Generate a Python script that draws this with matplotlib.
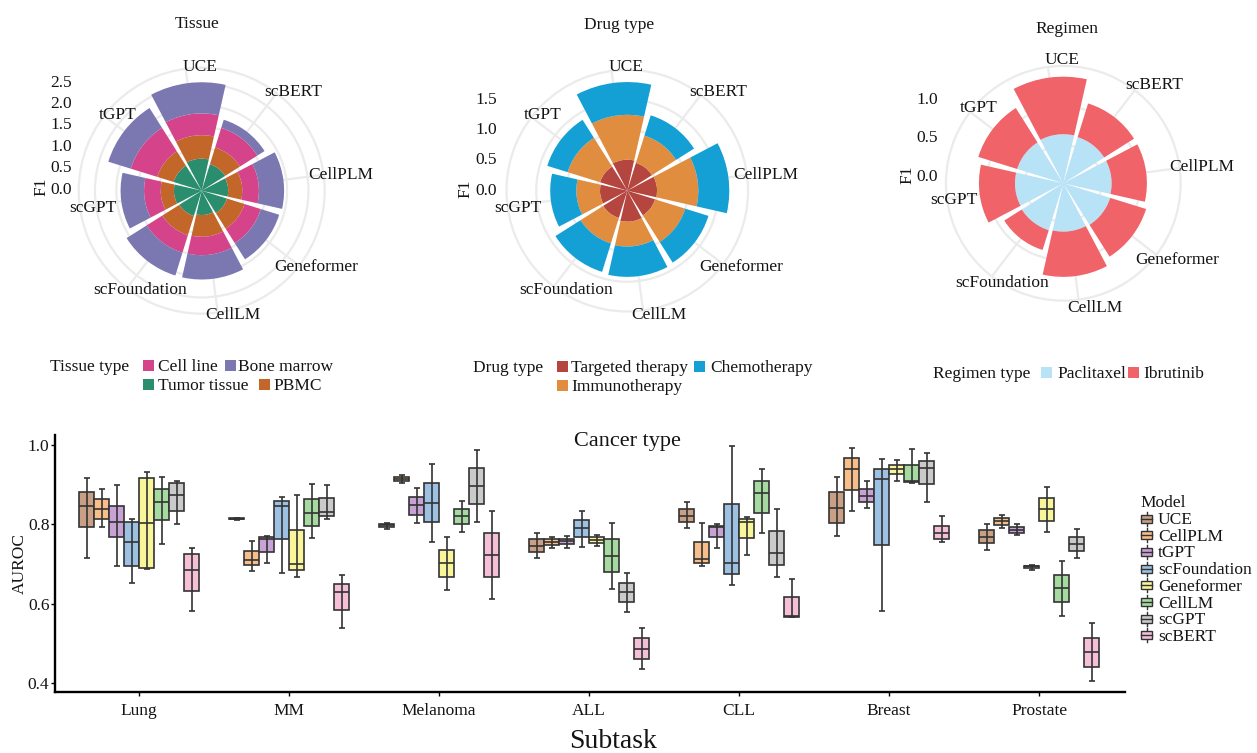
import numpy as np
import matplotlib
matplotlib.use("Agg")
import matplotlib.pyplot as plt
from matplotlib.patches import Rectangle

plt.rcParams["font.family"] = ["Liberation Serif", "DejaVu Serif"]

# ---------------- radial F1 charts ----------------
polar_models = ["UCE", "scBERT", "CellPLM", "Geneformer", "CellLM",
                "scFoundation", "scGPT", "tGPT"]

# Tissue, stacked from the centre outwards
f1_tumor_tissue = [0.75, 0.65, 0.62, 0.62, 0.57, 0.62, 0.65, 0.69]
f1_pbmc = [0.55, 0.41, 0.33, 0.43, 0.51, 0.47, 0.31, 0.40]
f1_cell_line = [0.51, 0.48, 0.39, 0.40, 0.43, 0.43, 0.39, 0.65]
f1_bone_marrow = [0.73, 0.20, 0.59, 0.45, 0.57, 0.56, 0.55, 0.55]

# Drug type
f1_targeted = [0.51, 0.48, 0.49, 0.48, 0.51, 0.47, 0.45, 0.47]
f1_immuno = [0.74, 0.47, 0.68, 0.52, 0.41, 0.44, 0.39, 0.56]
f1_chemo = [0.54, 0.35, 0.51, 0.40, 0.50, 0.49, 0.43, 0.35]

# Regimen
f1_paclitaxel = [0.64, 0.63, 0.63, 0.64, 0.63, 0.64, 0.63, 0.63]
f1_ibrutinib = [0.75, 0.46, 0.46, 0.49, 0.59, 0.27, 0.47, 0.53]

# ---------------- AUROC box plot ----------------
subtasks = ["Lung", "MM", "Melanoma", "ALL", "CLL", "Breast", "Prostate"]
box_models = ["UCE", "CellPLM", "tGPT", "scFoundation", "Geneformer",
              "CellLM", "scGPT", "scBERT"]

auroc_lo = [
    [0.715, 0.794, 0.696, 0.653, 0.688, 0.751, 0.800, 0.581],
    [0.812, 0.683, 0.704, 0.678, 0.668, 0.765, 0.813, 0.540],
    [0.788, 0.904, 0.803, 0.756, 0.635, 0.781, 0.805, 0.613],
    [0.715, 0.741, 0.741, 0.744, 0.746, 0.638, 0.580, 0.435],
    [0.792, 0.694, 0.741, 0.647, 0.724, 0.778, 0.667, 0.566],
    [0.771, 0.834, 0.842, 0.583, 0.910, 0.904, 0.857, 0.755],
    [0.736, 0.791, 0.773, 0.685, 0.780, 0.570, 0.715, 0.406],
]
auroc_q1 = [
    [0.793, 0.813, 0.767, 0.696, 0.691, 0.811, 0.834, 0.632],
    [0.813, 0.697, 0.731, 0.762, 0.684, 0.796, 0.821, 0.584],
    [0.793, 0.909, 0.824, 0.805, 0.668, 0.800, 0.851, 0.668],
    [0.730, 0.748, 0.750, 0.767, 0.752, 0.680, 0.605, 0.461],
    [0.806, 0.702, 0.767, 0.675, 0.765, 0.828, 0.697, 0.568],
    [0.804, 0.887, 0.857, 0.748, 0.926, 0.906, 0.901, 0.763],
    [0.752, 0.798, 0.779, 0.691, 0.809, 0.604, 0.732, 0.442],
]
auroc_med = [
    [0.846, 0.838, 0.807, 0.756, 0.803, 0.856, 0.873, 0.685],
    [0.814, 0.710, 0.763, 0.846, 0.700, 0.828, 0.831, 0.631],
    [0.798, 0.915, 0.848, 0.855, 0.702, 0.820, 0.896, 0.723],
    [0.746, 0.756, 0.757, 0.790, 0.761, 0.721, 0.629, 0.487],
    [0.821, 0.712, 0.793, 0.704, 0.807, 0.880, 0.729, 0.569],
    [0.841, 0.940, 0.872, 0.914, 0.939, 0.910, 0.943, 0.778],
    [0.769, 0.809, 0.786, 0.694, 0.838, 0.639, 0.751, 0.478],
]
auroc_q3 = [
    [0.882, 0.864, 0.845, 0.806, 0.918, 0.890, 0.903, 0.725],
    [0.815, 0.733, 0.767, 0.858, 0.786, 0.863, 0.866, 0.650],
    [0.802, 0.919, 0.870, 0.904, 0.736, 0.839, 0.941, 0.778],
    [0.763, 0.762, 0.763, 0.811, 0.767, 0.762, 0.653, 0.513],
    [0.838, 0.756, 0.797, 0.851, 0.814, 0.909, 0.784, 0.618],
    [0.882, 0.966, 0.888, 0.939, 0.950, 0.950, 0.960, 0.796],
    [0.786, 0.816, 0.794, 0.696, 0.866, 0.673, 0.769, 0.515],
]
auroc_hi = [
    [0.916, 0.888, 0.898, 0.814, 0.931, 0.920, 0.908, 0.741],
    [0.816, 0.758, 0.770, 0.870, 0.873, 0.901, 0.898, 0.672],
    [0.804, 0.924, 0.892, 0.952, 0.767, 0.858, 0.987, 0.834],
    [0.779, 0.767, 0.770, 0.834, 0.772, 0.803, 0.677, 0.540],
    [0.856, 0.803, 0.801, 0.997, 0.819, 0.939, 0.838, 0.663],
    [0.920, 0.993, 0.908, 0.964, 0.962, 0.989, 0.979, 0.821],
    [0.801, 0.824, 0.800, 0.698, 0.895, 0.707, 0.788, 0.551],
]

# ---------------- styling ----------------
tissue_colors = ["#2A8D6E", "#C2662A", "#D5438A", "#7B77B1"]
drug_colors = ["#B5453F", "#E08D3F", "#14A0D4"]
regimen_colors = ["#B8E2F6", "#EF6369"]
box_colors = ["#C9A086", "#F7BE89", "#C8A1D5", "#9DC1E3",
              "#F8F59B", "#A5DBA0", "#CACACA", "#F6BFD8"]
GRID = "#EBEBEB"
EDGE = "#333333"
TXT = "#141414"
FS = 12.5

W, H = 1257, 753
fig = plt.figure(figsize=(W / 100, H / 100), dpi=100)
fig.patch.set_facecolor("white")


def rect(x0, y0, x1, y1):
    """Pixel box (top-left origin) -> figure fraction rectangle."""
    return [x0 / W, 1 - y1 / H, (x1 - x0) / W, (y1 - y0) / H]


# overlay in pixel coordinates for labels and legends
ov = fig.add_axes([0, 0, 1, 1])
ov.set_xlim(0, W)
ov.set_ylim(H, 0)
ov.axis("off")
ov.set_zorder(10)


def radial_panel(cx, cy, ppu, rmax, layers, colors, rticks,
                 rlab_dx, rlab_dy, title, title_xy):
    R = rmax * ppu
    ax = fig.add_axes(rect(cx - R, cy - R, cx + R, cy + R), projection="polar")
    ax.set_theta_zero_location("N")
    ax.set_theta_direction(-1)
    n = len(polar_models)
    step = 2 * np.pi / n
    theta = (np.arange(n) * step - np.deg2rad(7.5)) % (2 * np.pi)
    base = np.zeros(n)
    for vals, col in zip(layers, colors):
        vals = np.asarray(vals, dtype=float)
        ax.bar(theta, vals, width=0.9 * step, bottom=base, color=col,
               edgecolor="none", zorder=2)
        base = base + vals
    ax.set_xticks(theta)
    ax.set_xticklabels([])
    ax.set_xlim(0, 2 * np.pi)
    ax.set_ylim(0, rmax)
    ax.set_yticks([t for t in rticks if t > 0])
    ax.set_yticklabels([])
    ax.tick_params(length=0)
    ax.grid(True, color=GRID, lw=1.6)
    ax.set_axisbelow(True)
    ax.spines["polar"].set_color(GRID)
    ax.spines["polar"].set_linewidth(1.6)
    ax.patch.set_visible(False)

    for name, t in zip(polar_models, theta):
        ov.text(cx + 15 + 125 * np.sin(t), cy - 1 - 125 * np.cos(t) + 1.5, name,
                ha="center", va="center", fontsize=FS, color=TXT)
    for v in rticks:
        ov.text(cx + rlab_dx, cy - v * ppu - rlab_dy + 1.5, f"{v:.1f}",
                ha="right", va="center", fontsize=FS, color=TXT)
    ov.text(cx + rlab_dx - 31, cy - rlab_dy - 1, "F1", rotation=90,
            ha="center", va="center", fontsize=FS, color=TXT)
    ov.text(title_xy[0], title_xy[1] + 1.5, title, ha="center", va="center",
            fontsize=FS, color=TXT)


radial_panel(201.7, 190.7, 42.7, 2.88,
             [f1_tumor_tissue, f1_pbmc, f1_cell_line, f1_bone_marrow],
             tissue_colors, [0.0, 0.5, 1.0, 1.5, 2.0, 2.5],
             -129.5, 2.7, "Tissue", (197, 22))
radial_panel(627.3, 190.7, 60.7, 1.99,
             [f1_targeted, f1_immuno, f1_chemo],
             drug_colors, [0.0, 0.5, 1.0, 1.5],
             -130.5, 1.4, "Drug type", (619, 23))
radial_panel(1063.3, 183.3, 76.7, 1.53,
             [f1_paclitaxel, f1_ibrutinib],
             regimen_colors, [0.0, 0.5, 1.0],
             -125, 8.0, "Regimen", (1067, 27))


def key_legend(title, title_x, rows, entries):
    ov.text(title_x, rows[0] + 1.5, title, ha="left", va="center",
            fontsize=FS, color=TXT)
    for label, col, kx, row, gap in entries:
        y = rows[row]
        ov.add_patch(Rectangle((kx, y - 5.5), 11, 11, facecolor=col,
                               edgecolor="none"))
        ov.text(kx + gap, y + 1.5, label, ha="left", va="center",
                fontsize=FS, color=TXT)


key_legend("Tissue type", 50, [365.5, 384.5], [
    ("Cell line", tissue_colors[2], 143, 0, 15),
    ("Bone marrow", tissue_colors[3], 224.5, 0, 14),
    ("Tumor tissue", tissue_colors[0], 143, 1, 15),
    ("PBMC", tissue_colors[1], 259, 1, 14),
])
key_legend("Drug type", 473, [366.5, 385.5], [
    ("Targeted therapy", drug_colors[0], 557, 0, 14),
    ("Chemotherapy", drug_colors[2], 694, 0, 16),
    ("Immunotherapy", drug_colors[1], 557, 1, 14),
])
key_legend("Regimen type", 933, [372], [
    ("Paclitaxel", regimen_colors[0], 1041, 0, 16),
    ("Ibrutinib", regimen_colors[1], 1128, 0, 15),
])

# ---------------- box plot ----------------
bx = fig.add_axes(rect(55, 435, 1125, 692))
n_sub = len(subtasks)
n_mod = len(box_models)
slot = 0.1
for k, col in enumerate(box_colors):
    pos = np.arange(n_sub) + (k - (n_mod - 1) / 2) * slot
    lo = np.array([auroc_lo[i][k] for i in range(n_sub)])
    q1 = np.array([auroc_q1[i][k] for i in range(n_sub)])
    med = np.array([auroc_med[i][k] for i in range(n_sub)])
    q3 = np.array([auroc_q3[i][k] for i in range(n_sub)])
    hi = np.array([auroc_hi[i][k] for i in range(n_sub)])
    stats = [dict(med=med[i], q1=q1[i], q3=q3[i], whislo=lo[i],
                  whishi=hi[i], fliers=[]) for i in range(n_sub)]
    bx.bxp(stats, positions=pos, widths=slot, patch_artist=True,
           showcaps=False, showfliers=False, manage_ticks=False,
           boxprops=dict(facecolor=col, edgecolor=EDGE, linewidth=1.2),
           medianprops=dict(color=EDGE, linewidth=1.2),
           whiskerprops=dict(linewidth=0), zorder=2)
    bx.errorbar(pos, med, yerr=[med - lo, hi - med], fmt="none",
                ecolor=EDGE, elinewidth=1.2, capsize=1.9, capthick=1.2,
                zorder=3)

bx.set_xlim(-0.56, 6.573)
bx.set_ylim(0.378, 1.025)
bx.set_xticks(np.arange(n_sub))
bx.set_xticklabels(subtasks, fontsize=FS, color=TXT)
bx.set_yticks([0.4, 0.6, 0.8, 1.0])
bx.set_yticklabels(["0.4", "0.6", "0.8", "1.0"], fontsize=FS, color=TXT)
bx.tick_params(axis="x", length=3, width=1, pad=5)
bx.tick_params(axis="y", length=3, width=1, pad=1)
for s in ("top", "right"):
    bx.spines[s].set_visible(False)
for s in ("left", "bottom"):
    bx.spines[s].set_linewidth(1.7)
    bx.spines[s].set_color("black")
bx.patch.set_visible(False)

ov.text(627.5, 441, "Cancer type", ha="center", va="center", fontsize=16, color=TXT)
ov.text(613, 741, "Subtask", ha="center", va="center", fontsize=20, color=TXT)
ov.text(20, 563, "AUROC", rotation=90, ha="center", va="center", fontsize=FS, color=TXT)

# model legend with box glyphs
ov.text(1140, 501.5 + 1.5, "Model", ha="left", va="center", fontsize=FS, color=TXT)
for k, (name, col) in enumerate(zip(box_models, box_colors)):
    y = 518.5 + 16.7 * k
    ov.plot([1146.5, 1146.5], [y - 7, y + 7], color=EDGE, lw=1.0)
    ov.add_patch(Rectangle((1141, y - 4), 11, 8, facecolor=col,
                           edgecolor=EDGE, lw=1.0, zorder=3))
    ov.plot([1141, 1152], [y, y], color=EDGE, lw=1.0, zorder=4)
    ov.text(1158, y + 1.5, name, ha="left", va="center", fontsize=FS, color=TXT)

fig.savefig("out.png", dpi=100, facecolor="white")
